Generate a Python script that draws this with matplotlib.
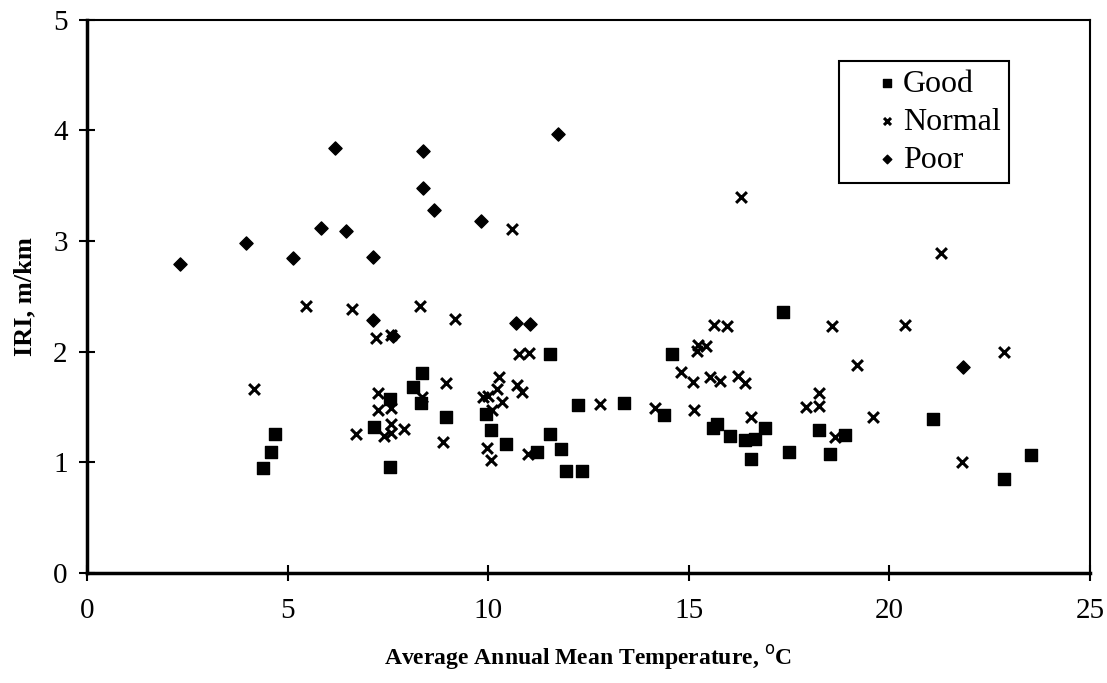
import matplotlib.pyplot as plt

plt.rcParams['font.family'] = ['Liberation Serif', 'DejaVu Serif']
plt.rcParams['font.size'] = 15

# 読み取ったデータ
good_x = [4.39, 4.59, 4.69, 7.15, 7.55, 7.55, 8.13, 8.35, 8.32, 8.95, 9.94, 10.07,
          10.44, 11.22, 11.54, 11.54, 11.81, 11.94, 12.34, 12.24, 13.38, 14.38, 14.58,
          15.6, 15.7, 16.03, 16.4, 16.65, 16.55, 16.9, 17.5, 17.35, 18.25, 18.52, 18.9,
          21.1, 22.86, 23.53]
good_y = [0.95, 1.09, 1.26, 1.32, 1.57, 0.96, 1.68, 1.81, 1.54, 1.41, 1.44, 1.29,
          1.17, 1.09, 1.98, 1.26, 1.12, 0.92, 0.92, 1.52, 1.54, 1.43, 1.98,
          1.31, 1.35, 1.24, 1.20, 1.21, 1.03, 1.31, 1.09, 2.36, 1.29, 1.08, 1.25,
          1.39, 0.85, 1.07]

normal_x = [4.16, 5.46, 6.6, 6.7, 7.2, 7.25, 7.25, 7.4, 7.58, 7.58, 7.58, 7.58, 7.9,
            8.3, 8.35, 8.95, 8.88, 9.17, 9.87, 10.0, 10.1, 10.22, 10.27, 10.34, 9.97,
            10.07, 10.59, 10.72, 10.84, 10.77, 11.02, 10.99, 12.79, 14.16, 14.8, 15.1,
            15.13, 15.2, 15.23, 15.43, 15.53, 15.63, 15.78, 15.95, 16.22, 16.3, 16.4,
            16.55, 17.92, 18.25, 18.25, 18.57, 18.64, 19.2, 19.6, 20.39, 21.29, 21.8,
            22.86]
normal_y = [1.66, 2.41, 2.39, 1.26, 2.12, 1.63, 1.47, 1.24, 2.15, 1.49, 1.35, 1.27, 1.30,
            2.41, 1.59, 1.72, 1.18, 2.30, 1.59, 1.60, 1.47, 1.66, 1.77, 1.55, 1.13,
            1.02, 3.11, 1.70, 1.64, 1.98, 1.99, 1.08, 1.53, 1.49, 1.82, 1.73,
            1.47, 2.01, 2.06, 2.05, 1.77, 2.24, 1.74, 2.23, 1.78, 3.40, 1.72,
            1.41, 1.50, 1.63, 1.51, 2.23, 1.23, 1.88, 1.41, 2.24, 2.89, 1.00,
            2.00]

poor_x = [2.32, 3.96, 5.13, 5.83, 6.18, 6.46, 7.13, 7.13, 7.63, 8.37, 8.37, 8.65,
          9.82, 10.69, 11.04, 11.74, 21.83]
poor_y = [2.79, 2.98, 2.85, 3.12, 3.84, 3.09, 2.86, 2.29, 2.14, 3.81, 3.48, 3.28,
          3.18, 2.26, 2.25, 3.97, 1.86]

fig = plt.figure(figsize=(11.07, 6.83), dpi=100)
ax = fig.add_axes([0.0786, 0.161, 0.906, 0.81])

ax.scatter(good_x, good_y, marker='s', s=70, color='black', label='Good')
ax.scatter(normal_x, normal_y, marker='x', s=60, linewidths=2.2, color='black', label='Normal')
ax.scatter(poor_x, poor_y, marker='D', s=45, color='black', label='Poor')

ax.set_xlim(0, 25)
ax.set_ylim(0, 5)
ax.set_xticks([0, 5, 10, 15, 20, 25])
ax.set_yticks([0, 1, 2, 3, 4, 5])
ax.tick_params(direction='inout', length=12, width=1.5, labelsize=21)
ax.tick_params(axis='x', pad=12)
ax.tick_params(axis='y', pad=8)
for s in ax.spines.values():
  s.set_linewidth(1.5)
ax.spines['left'].set_linewidth(2.5)
ax.spines['bottom'].set_linewidth(2.5)

ax.set_xlabel('Average Annual Mean Temperature, $^{\\mathrm{o}}$C', fontsize=17, fontweight='bold', labelpad=14)
ax.set_ylabel('IRI, m/km', fontsize=19, fontweight='bold', labelpad=12)

leg = ax.legend(loc='upper left', bbox_to_anchor=(0.75, 0.925), fontsize=23,
                markerscale=0.65, handletextpad=-0.75, handlelength=2.5,
                fancybox=False, edgecolor='black', framealpha=1, borderpad=0.25,
                labelspacing=0.27, borderaxespad=0)
leg.get_frame().set_linewidth(1.5)

fig.savefig('out.png', dpi=100)
